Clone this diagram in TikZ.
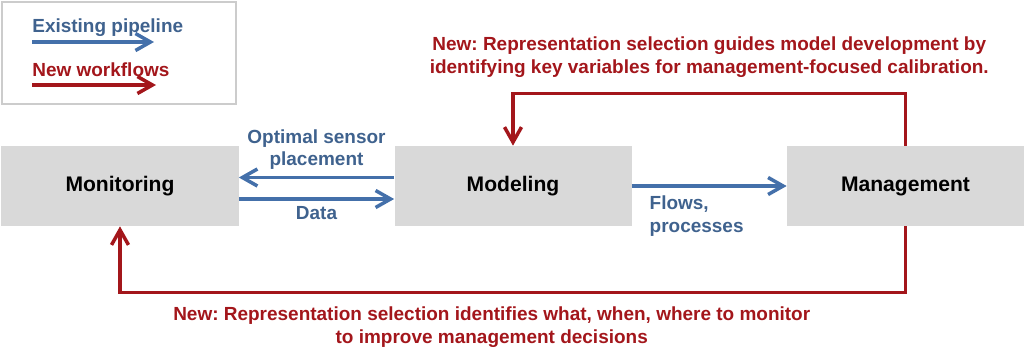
\documentclass[tikz,border=0pt]{standalone}
\usepackage{fontspec}
\setmainfont{Liberation Sans}
\usetikzlibrary{arrows.meta,positioning}
\definecolor{pipeblue}{HTML}{4470AA}
\definecolor{pipetext}{HTML}{3F628E}
\definecolor{newred}{HTML}{A3161B}
\definecolor{boxgray}{HTML}{D9D9D9}
\frenchspacing
\tikzset{
  >={Straight Barb[length=3mm,width=3.4mm]},
  font=\bfseries,
  stage/.style={fill=boxgray, minimum width=4.74cm, minimum height=1.6cm,
                font=\fontsize{12}{14}\selectfont\bfseries},
  bluearr/.style={->, pipeblue, line width=2pt},
  redarr/.style={->, newred, line width=2pt},
  bluelbl/.style={text=pipetext, align=center, font=\fontsize{10.8}{13}\selectfont\bfseries},
  redlbl/.style={text=newred, align=center, font=\fontsize{10.8}{13}\selectfont\bfseries},
  legendbox/.style={draw=black!20, line width=0.8pt, minimum width=4.68cm, minimum height=2.04cm},
}

\begin{document}
\begin{tikzpicture}
  \useasboundingbox (0,0) rectangle (20.48,-7.18);
  \node[legendbox] (legend) at (2.38,-1.06) {};
  \node[bluelbl, anchor=base west, inner sep=0pt] (existing) at (0.64,-0.64) {Existing pipeline};
  \node[redlbl, anchor=base west, inner sep=0pt] (newflows) at (0.64,-1.52) {New workflows};
  \coordinate (exstart) at (0.64,-0.84);
  \coordinate (exend) at (3.08,-0.84);
  \coordinate (nwstart) at (0.64,-1.70);
  \coordinate (nwend) at (3.12,-1.70);
  \draw[bluearr] (exstart) -- (exend);
  \draw[redarr] (nwstart) -- (nwend);

  \node[stage] (monitoring) at (2.40,-3.72) {Monitoring};
  \node[stage] (modeling) at (10.26,-3.72) {Modeling};
  \node[stage] (management) at (18.11,-3.72) {Management};

  \draw[bluearr] ([yshift=0.17cm]modeling.west) -- node[bluelbl, above] {Optimal sensor\\placement} ([yshift=0.17cm]monitoring.east);
  \draw[bluearr] ([yshift=-0.26cm]monitoring.east) -- node[bluelbl, below] {Data} ([yshift=-0.26cm]modeling.west);
  \draw[bluearr] (modeling) -- node[bluelbl, align=left, below right=2pt, pos=0.05] {Flows,\\processes} (management);

  \draw[redarr] (management.north) -- ++(0,1.04) -| node[redlbl, pos=0.25, above=0.17cm]
    {New: Representation selection guides model development by\\identifying key variables for management-focused calibration.} (modeling.north);
  \draw[redarr] (management.south) -- ++(0,-1.32) -| node[redlbl, pos=0.25, below=0.13cm, xshift=-0.42cm]
    {New: Representation selection identifies what, when, where to monitor\\to improve management decisions} (monitoring.south);
\end{tikzpicture}
\end{document}
